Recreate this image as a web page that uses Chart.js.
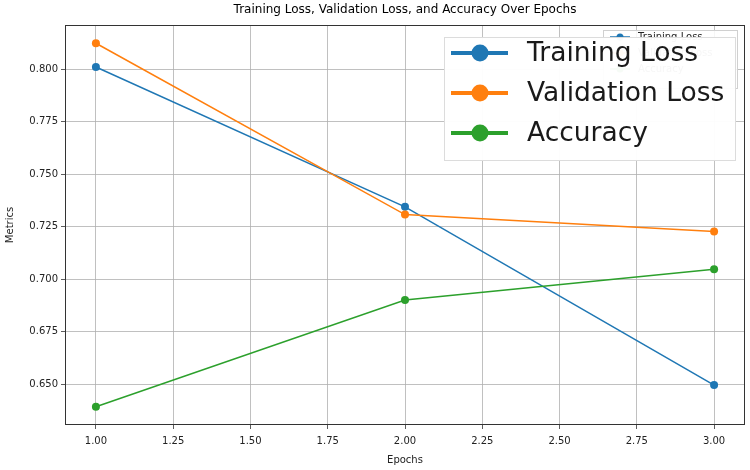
<!DOCTYPE html>
<html>
<head>
<meta charset="utf-8">
<script src="https://cdn.jsdelivr.net/npm/chart.js@4/dist/chart.umd.min.js"></script>
<style>
  html, body { margin: 0; padding: 0; background: #fff; }
  #wrap { width: 750px; height: 470px; }
</style>
</head>
<body>
<div id="wrap"><canvas id="myChart" width="750" height="470"></canvas></div>
<script>
// data
var epochs = [1, 2, 3];
var trainingLoss = [0.8010, 0.7344, 0.6495];
var validationLoss = [0.8123, 0.7307, 0.7226];
var accuracy = [0.6392, 0.6900, 0.7047];
var xTicks = [1.00, 1.25, 1.50, 1.75, 2.00, 2.25, 2.50, 2.75, 3.00];
var yTicks = [0.650, 0.675, 0.700, 0.725, 0.750, 0.775, 0.800];

var seriesNames = ['Training Loss', 'Validation Loss', 'Accuracy'];
var seriesColors = ['#1f77b4', '#ff7f0e', '#2ca02c'];
var FONT = 'DejaVu Sans';

function toPoints(values) {
  return epochs.map(function(e, i) { return {x: e, y: values[i]}; });
}

function makeDataset(idx, values, order) {
  return {
    label: seriesNames[idx],
    data: toPoints(values),
    borderColor: seriesColors[idx],
    backgroundColor: seriesColors[idx],
    borderWidth: 1.5,
    pointRadius: 4,
    pointHoverRadius: 4,
    pointBorderWidth: 0,
    tension: 0,
    order: order
  };
}

// frame, title and the (oversized) legend are drawn by hand
var decor = {
  id: 'decor',
  afterDraw: function(chart) {
    var ctx = chart.ctx;
    var a = chart.chartArea;
    ctx.save();
    ctx.strokeStyle = '#333';
    ctx.lineWidth = 1;
    ctx.strokeRect(a.left + 0.5, a.top + 0.5, a.right - a.left - 1, a.bottom - a.top - 1);

    ctx.fillStyle = '#000';
    ctx.font = '12px "' + FONT + '"';
    ctx.textAlign = 'center';
    ctx.textBaseline = 'middle';
    ctx.fillText('Training Loss, Validation Loss, and Accuracy Over Epochs', (a.left + a.right) / 2, 10);

    // small legend hidden behind
    ctx.fillStyle = 'rgba(255,255,255,0.85)';
    ctx.strokeStyle = '#d0d0d0';
    ctx.fillRect(603, 30, 134, 58);
    ctx.strokeRect(603.5, 30.5, 134, 58);
    ctx.font = '10px "' + FONT + '"';
    ctx.textAlign = 'left';
    for (var i = 0; i < 3; i++) {
      var yy = 37 + i * 16;
      ctx.strokeStyle = seriesColors[i];
      ctx.lineWidth = 1.5;
      ctx.beginPath(); ctx.moveTo(610, yy); ctx.lineTo(630, yy); ctx.stroke();
      ctx.fillStyle = seriesColors[i];
      ctx.beginPath(); ctx.arc(620, yy, 3.5, 0, Math.PI * 2); ctx.fill();
      ctx.fillStyle = '#222';
      ctx.fillText(seriesNames[i], 638, yy);
    }

    // big legend on top
    ctx.fillStyle = 'rgba(255,255,255,0.96)';
    ctx.strokeStyle = '#dcdcdc';
    ctx.lineWidth = 1;
    ctx.fillRect(444, 37, 291, 123);
    ctx.strokeRect(444.5, 37.5, 291, 123);
    ctx.font = '26.5px "' + FONT + '"';
    for (var j = 0; j < 3; j++) {
      var y = 53 + j * 40;
      ctx.strokeStyle = seriesColors[j];
      ctx.lineWidth = 4;
      ctx.beginPath(); ctx.moveTo(451, y); ctx.lineTo(508, y); ctx.stroke();
      ctx.fillStyle = seriesColors[j];
      ctx.beginPath(); ctx.arc(480, y, 8.5, 0, Math.PI * 2); ctx.fill();
      ctx.fillStyle = '#1a1a1a';
      ctx.fillText(seriesNames[j], 527, y + 1);
    }
    ctx.restore();
  }
};

var ctx = document.getElementById('myChart');
var chart = new Chart(ctx, {
  type: 'line',
  data: {
    datasets: [
      makeDataset(0, trainingLoss, 2),
      makeDataset(1, validationLoss, 1),
      makeDataset(2, accuracy, 0)
    ]
  },
  options: {
    responsive: false,
    animation: false,
    layout: { padding: { top: 25, right: 5, left: 0, bottom: 0 } },
    plugins: {
      legend: { display: false },
      title: { display: false },
      tooltip: { enabled: false }
    },
    scales: {
      x: {
        type: 'linear',
        min: 0.9,
        max: 3.1,
        afterBuildTicks: function(scale) {
          scale.ticks = xTicks.map(function(v) { return {value: v}; });
        },
        afterFit: function(scale) { scale.height = 45; },
        ticks: {
          color: '#222',
          font: { family: FONT, size: 10 },
          padding: 6,
          maxRotation: 0,
          autoSkip: false,
          callback: function(v) { return Number(v).toFixed(2); }
        },
        grid: { color: '#b0b0b0', lineWidth: 0.8, tickLength: 4, tickColor: '#333', drawTicks: true },
        border: { display: false },
        title: { display: true, text: 'Epochs', color: '#222', font: { family: FONT, size: 10 }, padding: { top: 2 } }
      },
      y: {
        type: 'linear',
        min: 0.6305,
        max: 0.821,
        afterBuildTicks: function(scale) {
          scale.ticks = yTicks.map(function(v) { return {value: v}; });
        },
        afterFit: function(scale) { scale.width = 65; },
        ticks: {
          color: '#222',
          font: { family: FONT, size: 10 },
          padding: 3,
          autoSkip: false,
          callback: function(v) { return Number(v).toFixed(3); }
        },
        grid: { color: '#b0b0b0', lineWidth: 0.8, tickLength: 4, tickColor: '#333', drawTicks: true },
        border: { display: false },
        title: { display: true, text: 'Metrics', color: '#222', font: { family: FONT, size: 10 }, padding: { bottom: 2 } }
      }
    }
  },
  plugins: [decor]
});
</script>
</body>
</html>
